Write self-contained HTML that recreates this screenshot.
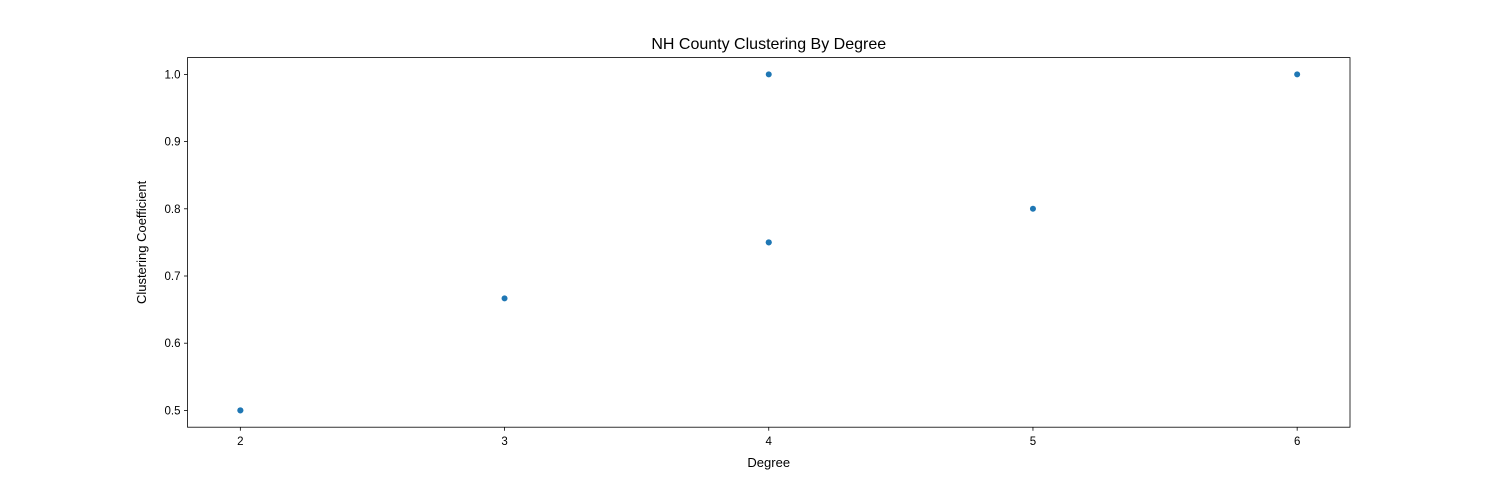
<!DOCTYPE html>
<html><head><meta charset="utf-8"><style>
body{margin:0;background:#fff;}
svg text{font-family:"Liberation Sans","DejaVu Sans",sans-serif;fill:#000;}
</style></head><body>
<svg id="chart" width="1500" height="480" xmlns="http://www.w3.org/2000/svg">
<rect width="1500" height="480" fill="#fff"/>
<text x="768.75" y="49" font-size="16" text-anchor="middle">NH County Clustering By Degree</text>
<g id="xticks"></g>
<g id="yticks"></g>
<g id="points"></g>
<rect x="187.5" y="57.6" width="1162.5" height="369.6" fill="none" stroke="#000" stroke-width="0.8"/>
<text x="768.75" y="467" font-size="13" text-anchor="middle">Degree</text>
<text transform="translate(146,242.4) rotate(-90)" font-size="13" text-anchor="middle">Clustering Coefficient</text>
</svg>
<script>
const degrees=[2,3,4,4,4,5,6,2];
const clustering=[0.5,0.6667,1.0,0.75,0.75,0.8,1.0,0.5];
const xTickValues=[2,3,4,5,6];
const yTickValues=[0.5,0.6,0.7,0.8,0.9,1.0];
const L=187.5,R=1350,T=57.6,B=427.2;
const xmin=1.8,xmax=6.2,ymin=0.475,ymax=1.025;
const sx=v=>L+(v-xmin)/(xmax-xmin)*(R-L);
const sy=v=>B-(v-ymin)/(ymax-ymin)*(B-T);
const NS="http://www.w3.org/2000/svg";
const xg=document.getElementById('xticks'),yg=document.getElementById('yticks'),pg=document.getElementById('points');
xTickValues.forEach(v=>{
 const l=document.createElementNS(NS,'line');
 l.setAttribute('x1',sx(v));l.setAttribute('x2',sx(v));l.setAttribute('y1',B);l.setAttribute('y2',B+3.5);l.setAttribute('stroke','#000');l.setAttribute('stroke-width','0.8');
 
 
 xg.appendChild(l);
 const t=document.createElementNS(NS,'text');
 t.setAttribute('x',sx(v));t.setAttribute('y',B+18);t.setAttribute('font-size','11.5');t.setAttribute('text-anchor','middle');t.textContent=v;
 
 
 xg.appendChild(t);
});
yTickValues.forEach(v=>{
 const l=document.createElementNS(NS,'line');
 l.setAttribute('x1',L-3.5);l.setAttribute('x2',L);l.setAttribute('y1',sy(v));l.setAttribute('y2',sy(v));l.setAttribute('stroke','#000');l.setAttribute('stroke-width','0.8');
 
 
 yg.appendChild(l);
 const t=document.createElementNS(NS,'text');
 t.setAttribute('x',L-7);t.setAttribute('y',sy(v)+4);t.setAttribute('font-size','11.5');t.setAttribute('text-anchor','end');t.textContent=v.toFixed(1);
 
 
 yg.appendChild(t);
});
degrees.forEach((d,i)=>{
 const c=document.createElementNS(NS,'circle');
 c.setAttribute('cx',sx(d));c.setAttribute('cy',sy(clustering[i]));c.setAttribute('r','3');c.setAttribute('fill','#1f77b4');
 
 
 pg.appendChild(c);
});
</script>
</body></html>
